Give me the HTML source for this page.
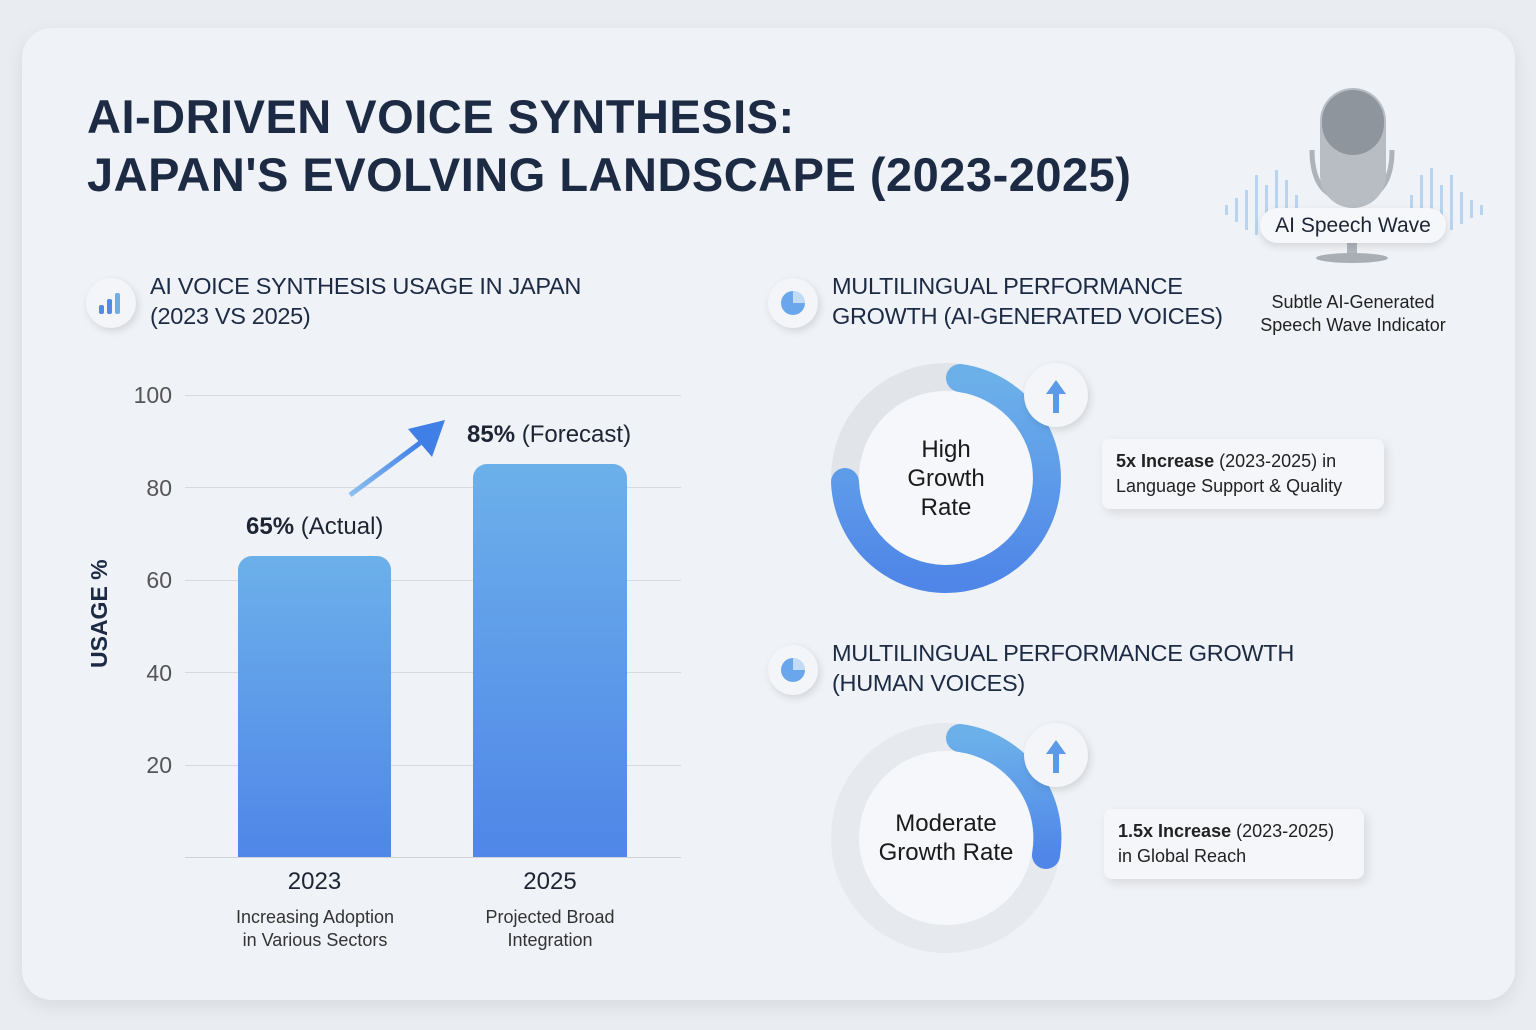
<!DOCTYPE html>
<html><head><meta charset="utf-8"><style>
body{margin:0;width:1536px;height:1030px;background:#e9edf2;font-family:"Liberation Sans",sans-serif;position:relative;overflow:hidden;color:#1d2433}
.card{position:absolute;left:22px;top:28px;width:1493px;height:972px;border-radius:30px;background:#eff2f6;box-shadow:0 6px 18px rgba(0,0,0,.08)}
.a{position:absolute}
h1{position:absolute;left:87px;top:88px;margin:0;font-size:47px;line-height:58px;font-weight:bold;color:#1c2a44;letter-spacing:.5px}
.ic{position:absolute;width:50px;height:50px;border-radius:50%;background:#f3f5f8;box-shadow:2px 3px 8px rgba(0,0,0,.12)}
.st{font-size:23.5px;line-height:30px;color:#1c2a44;letter-spacing:-0.3px}
.tick{position:absolute;font-size:23px;color:#555;width:50px;text-align:right}
.gl{position:absolute;left:185px;width:496px;height:1px;background:#d6dae0}
.bar{position:absolute;border-radius:14px 14px 0 0;background:linear-gradient(#6cb0ea,#4f86e8)}
.lbl{position:absolute;text-align:center;font-size:18px;color:#333;line-height:23px}
.box{position:absolute;background:#f4f6f9;border-radius:8px;box-shadow:3px 4px 10px rgba(0,0,0,.1);font-size:18px;line-height:25px;padding:10px 14px;color:#222}
.ctr{position:absolute;text-align:center;font-size:24px;line-height:29px;color:#1a1a1a}
</style></head><body>
<div class="card"></div>
<h1>AI-DRIVEN VOICE SYNTHESIS:<br>JAPAN'S EVOLVING LANDSCAPE (2023-2025)</h1>

<div class="ic" style="left:86px;top:278px"><svg width="50" height="50"><rect x="13" y="27" width="5" height="9" rx="2" fill="#4f8be8"/><rect x="21" y="21" width="5" height="15" rx="2" fill="#4f8be8"/><rect x="29" y="15" width="5" height="21" rx="2" fill="#6cb0ea"/></svg></div>
<div class="a st" style="left:150px;top:271px">AI VOICE SYNTHESIS USAGE IN JAPAN<br>(2023 VS 2025)</div>

<div class="a" style="left:86px;top:668px;transform:rotate(-90deg);transform-origin:0 0;font-size:23px;font-weight:bold;color:#1c2a44">USAGE %</div>
<div class="tick" style="left:122px;top:382px">100</div><div class="gl" style="top:395px"></div>
<div class="tick" style="left:122px;top:475px">80</div><div class="gl" style="top:487px"></div>
<div class="tick" style="left:122px;top:567px">60</div><div class="gl" style="top:580px"></div>
<div class="tick" style="left:122px;top:660px">40</div><div class="gl" style="top:672px"></div>
<div class="tick" style="left:122px;top:752px">20</div><div class="gl" style="top:765px"></div>
<div class="gl" style="top:857px;background:#cfd3d9"></div>
<div class="bar" style="left:238px;top:556px;width:153px;height:301px"></div>
<div class="bar" style="left:473px;top:464px;width:154px;height:393px"></div>
<div class="a" style="left:246px;top:513px;font-size:24px"><b>65%</b> (Actual)</div>
<div class="a" style="left:467px;top:421px;font-size:24px"><b>85%</b> (Forecast)</div>
<svg class="a" style="left:340px;top:415px" width="110" height="85"><defs><linearGradient id="ag" x1="0" y1="1" x2="1" y2="0"><stop offset="0" stop-color="#8dc0f0"/><stop offset="1" stop-color="#3f7fe6"/></linearGradient></defs><path d="M10 80 L80 28" stroke="url(#ag)" stroke-width="5"/><path d="M105 5 L68 14 L92 42 Z" fill="#3f7fe6"/></svg>
<div class="a" style="left:238px;top:868px;width:153px;text-align:center;font-size:24px">2023</div>
<div class="a" style="left:473px;top:868px;width:154px;text-align:center;font-size:24px">2025</div>
<div class="lbl" style="left:215px;top:906px;width:200px">Increasing Adoption<br>in Various Sectors</div>
<div class="lbl" style="left:450px;top:906px;width:200px">Projected Broad<br>Integration</div>

<div class="ic" style="left:768px;top:278px"><svg width="50" height="50"><circle cx="25" cy="25" r="12" fill="#6aa6ec"/><path d="M25 25 L25 13 A12 12 0 0 1 37 25 Z" fill="#fff" opacity=".6"/></svg></div>
<div class="a st" style="left:832px;top:271px">MULTILINGUAL PERFORMANCE<br>GROWTH (AI-GENERATED VOICES)</div>
<div class="ic" style="left:768px;top:645px"><svg width="50" height="50"><circle cx="25" cy="25" r="12" fill="#6aa6ec"/><path d="M25 25 L25 13 A12 12 0 0 1 37 25 Z" fill="#fff" opacity=".6"/></svg></div>
<div class="a st" style="left:832px;top:638px">MULTILINGUAL PERFORMANCE GROWTH<br>(HUMAN VOICES)</div>

<svg class="a" style="left:0;top:0" width="1536" height="1030">
<defs><linearGradient id="rg" x1="0" y1="0" x2="0" y2="1"><stop offset="0" stop-color="#6cb0ea"/><stop offset="1" stop-color="#4f86e8"/></linearGradient></defs>
<circle cx="946" cy="478" r="101" fill="none" stroke="#e1e4e9" stroke-width="28"/>
<circle cx="946" cy="478" r="87" fill="#f5f7fa"/>
<path d="M960 378 A101 101 0 1 1 845 482" fill="none" stroke="url(#rg)" stroke-width="28" stroke-linecap="round"/>
<circle cx="946" cy="838" r="101" fill="none" stroke="#e6e9ed" stroke-width="28"/>
<circle cx="946" cy="838" r="87" fill="#f5f7fa"/>
<path d="M960 738 A101 101 0 0 1 1046 855" fill="none" stroke="url(#rg)" stroke-width="28" stroke-linecap="round"/>
<circle cx="1056" cy="395" r="32" fill="#f3f5f8" style="filter:drop-shadow(2px 3px 4px rgba(0,0,0,.12))"/>
<path d="M1056 380 L1046 394 L1053 394 L1053 413 L1059 413 L1059 394 L1066 394 Z" fill="#5a9ae8"/>
<circle cx="1056" cy="755" r="32" fill="#f3f5f8" style="filter:drop-shadow(2px 3px 4px rgba(0,0,0,.12))"/>
<path d="M1056 740 L1046 754 L1053 754 L1053 773 L1059 773 L1059 754 L1066 754 Z" fill="#5a9ae8"/>
<g fill="#b9d4ee">
<rect x="1225" y="205" width="3" height="10"/><rect x="1235" y="198" width="3" height="24"/><rect x="1245" y="190" width="3" height="40"/><rect x="1255" y="175" width="3" height="60"/><rect x="1265" y="185" width="3" height="45"/><rect x="1275" y="170" width="3" height="65"/><rect x="1285" y="180" width="3" height="45"/><rect x="1295" y="195" width="3" height="25"/>
<rect x="1410" y="195" width="3" height="25"/><rect x="1420" y="175" width="3" height="55"/><rect x="1430" y="168" width="3" height="66"/><rect x="1440" y="185" width="3" height="45"/><rect x="1450" y="175" width="3" height="55"/><rect x="1460" y="192" width="3" height="32"/><rect x="1470" y="200" width="3" height="18"/><rect x="1480" y="205" width="3" height="10"/>
</g>
<path d="M1312 150 Q1312 200 1352 200 Q1392 200 1392 150" fill="none" stroke="#aeb3ba" stroke-width="5"/>
<rect x="1320" y="88" width="66" height="120" rx="33" fill="#b8bdc4"/>
<rect x="1322" y="90" width="62" height="65" rx="31" fill="#8f959d"/>
<rect x="1347" y="238" width="10" height="18" fill="#b0b5bc"/>
<ellipse cx="1352" cy="258" rx="36" ry="5" fill="#a9aeb5"/>
</svg>
<div class="a" style="left:1260px;top:208px;width:186px;height:35px;border-radius:18px;background:#f5f7fa;box-shadow:0 3px 8px rgba(0,0,0,.12);text-align:center;font-size:21px;line-height:35px;color:#1d2433">AI Speech Wave</div>
<div class="a" style="left:1240px;top:291px;width:226px;text-align:center;font-size:18px;line-height:23px;color:#222">Subtle AI-Generated<br>Speech Wave Indicator</div>

<div class="ctr" style="left:876px;top:435px;width:140px">High<br>Growth<br>Rate</div>
<div class="ctr" style="left:856px;top:809px;width:180px">Moderate<br>Growth Rate</div>
<div class="box" style="left:1102px;top:439px;width:254px"><b>5x Increase</b> (2023-2025) in<br>Language Support &amp; Quality</div>
<div class="box" style="left:1104px;top:809px;width:232px"><b>1.5x Increase</b> (2023-2025)<br>in Global Reach</div>
</body></html>
